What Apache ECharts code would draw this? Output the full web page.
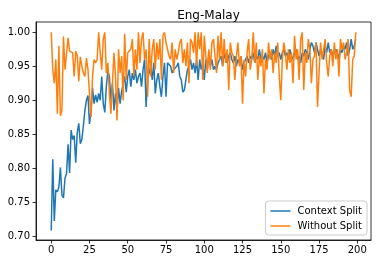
<!DOCTYPE html>
<html>
<head>
<meta charset="utf-8">
<script src="https://cdn.jsdelivr.net/npm/echarts@6/dist/echarts.min.js"></script>
<style>html,body{margin:0;padding:0;background:#fff}#c{width:378px;height:264px}</style>
</head>
<body>
<div id="c"></div>
<script>
var title = 'Eng-Malay';
var seriesNames = ['Context Split', 'Without Split'];
var xTicks = [0, 25, 50, 75, 100, 125, 150, 175, 200];
var yTicks = [0.70, 0.75, 0.80, 0.85, 0.90, 0.95, 1.00];

var contextSplit = [
0.708,0.813,0.722,0.768,0.765,0.772,0.801,0.760,0.756,0.785,0.792,0.835,0.793,0.856,0.842,0.848,0.808,0.852,0.866,0.836,0.842,0.862,0.885,0.900,0.907,
0.865,0.885,0.918,0.895,0.908,0.897,0.910,0.900,0.935,0.895,0.882,0.920,0.943,0.935,0.900,0.925,0.885,0.910,0.888,0.918,0.895,0.913,0.915,0.935,0.912,
0.935,0.945,0.920,0.940,0.930,0.945,0.925,0.935,0.940,0.920,0.945,0.960,0.890,0.935,0.940,0.950,0.930,0.955,0.910,0.930,0.940,0.920,0.905,0.935,0.955,
0.905,0.955,0.955,0.950,0.940,0.945,0.945,0.950,0.955,0.935,0.930,0.912,0.915,0.930,0.945,0.950,0.960,0.945,0.955,0.940,0.960,0.930,0.960,0.945,0.955,
0.930,0.960,0.945,0.970,0.950,0.960,0.945,0.950,0.945,0.955,0.960,0.965,0.950,0.970,0.960,0.955,0.965,0.970,0.960,0.955,0.965,0.950,0.960,0.955,0.965,
0.945,0.955,0.960,0.965,0.955,0.965,0.960,0.970,0.955,0.965,0.960,0.975,0.960,0.965,0.960,0.970,0.955,0.965,0.970,0.960,0.975,0.965,0.980,0.965,0.970,
0.960,0.970,0.975,0.965,0.970,0.960,0.975,0.965,0.960,0.970,0.975,0.960,0.965,0.955,0.970,0.965,0.975,0.970,0.960,0.975,0.985,0.980,0.970,0.985,0.975,
0.965,0.975,0.970,0.960,0.980,0.970,0.985,0.970,0.975,0.965,0.970,0.975,0.970,0.960,0.975,0.970,0.980,0.975,0.985,0.965,0.975,0.990,0.975,0.980,0.990
];

var withoutSplit = [
1.000,0.945,0.925,0.960,0.880,0.980,0.877,0.885,0.994,0.945,0.945,0.992,0.972,0.972,0.970,0.935,0.972,0.966,0.928,0.964,0.950,0.940,0.935,0.962,0.945,
0.945,0.875,0.935,0.960,0.955,0.960,1.000,0.970,0.945,0.990,1.000,0.940,0.955,0.910,0.880,0.925,0.970,0.935,0.870,0.975,0.940,0.965,0.900,0.998,0.930,
0.970,0.970,0.975,0.990,0.935,0.975,0.945,1.000,0.955,0.990,1.000,0.960,0.975,0.905,0.990,0.935,0.975,0.990,0.945,0.985,0.960,0.990,0.930,0.995,1.000,
0.985,0.975,0.965,0.960,0.985,0.940,0.975,0.960,0.970,0.985,0.990,0.955,0.975,0.950,0.985,0.925,0.990,0.985,0.970,1.000,0.950,1.000,0.975,1.000,0.930,
0.995,0.965,0.940,0.975,0.945,0.985,0.990,0.965,0.940,0.995,0.960,1.000,0.950,0.990,0.955,0.975,0.915,0.985,0.970,0.965,0.930,0.965,0.985,0.950,0.965,
0.895,0.960,0.935,0.970,0.990,0.945,0.960,1.000,0.955,0.985,0.930,0.965,0.950,0.975,0.910,0.960,0.945,0.985,0.960,0.975,0.940,0.970,0.955,0.985,0.935,
0.900,0.960,0.985,0.970,0.945,0.975,0.955,0.970,0.925,0.995,0.960,0.975,0.930,0.990,1.000,0.915,0.970,0.955,0.990,0.975,0.925,0.960,0.965,0.985,0.890,
0.940,0.985,0.960,0.975,0.990,0.955,0.935,0.965,0.975,0.950,0.985,0.960,0.975,0.935,0.990,0.975,0.985,0.960,0.970,0.990,0.915,0.905,0.960,0.965,1.000
];

function pairs(vals) { return vals.map(function (v, i) { return [i, v]; }); }

var font = 'DejaVu Sans';
var chart = echarts.init(document.getElementById('c'), null, { renderer: 'canvas' });
chart.setOption({
  animation: false,
  backgroundColor: '#fff',
  title: {
    text: title, left: 203.5, top: 5, textAlign: 'center',
    textStyle: { fontFamily: font, fontSize: 12, fontWeight: 'normal', color: '#000' }
  },
  grid: { left: 36, right: 7, top: 22, bottom: 24, show: true, borderColor: '#000', borderWidth: 0.8, backgroundColor: 'transparent' },
  legend: {
    orient: 'vertical', right: 11, bottom: 29,
    icon: 'rect', itemWidth: 20, itemHeight: 1.5, itemGap: 3,
    padding: [4, 5, 3, 5],
    backgroundColor: 'rgba(255,255,255,0.8)', borderColor: '#cccccc', borderWidth: 1, borderRadius: 3,
    textStyle: { fontFamily: font, fontSize: 10, color: '#000', lineHeight: 12, padding: [0, 0, 0, 2] },
    data: seriesNames
  },
  xAxis: {
    type: 'value', min: -9.95, max: 208.95,
    splitLine: { show: false },
    axisLine: { show: true, onZero: false, lineStyle: { color: '#000', width: 0.8 } },
    axisTick: { show: true, inside: false, length: 3.5, lineStyle: { color: '#000', width: 0.8 }, customValues: xTicks },
    axisLabel: { color: '#000', fontFamily: font, fontSize: 10, margin: 5, customValues: xTicks }
  },
  yAxis: {
    type: 'value', min: 0.6941, max: 1.0152,
    splitLine: { show: false },
    axisLine: { show: true, onZero: false, lineStyle: { color: '#000', width: 0.8 } },
    axisTick: { show: true, inside: false, length: 3.5, lineStyle: { color: '#000', width: 0.8 }, customValues: yTicks },
    axisLabel: { color: '#000', fontFamily: font, fontSize: 10, margin: 6, customValues: yTicks,
      formatter: function (v) { return v.toFixed(2); } }
  },
  series: [
    { name: seriesNames[0], type: 'line', data: pairs(contextSplit), symbol: 'none', lineStyle: { color: '#1f77b4', width: 1.5 }, itemStyle: { color: '#1f77b4' } },
    { name: seriesNames[1], type: 'line', data: pairs(withoutSplit), symbol: 'none', lineStyle: { color: '#ff7f0e', width: 1.5 }, itemStyle: { color: '#ff7f0e' } }
  ]
});
</script>
</body>
</html>
